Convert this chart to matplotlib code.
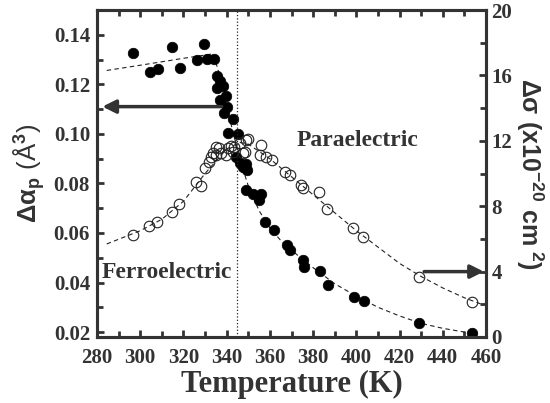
import matplotlib
matplotlib.use("Agg")
import matplotlib.pyplot as plt
from matplotlib.ticker import MultipleLocator, FormatStrFormatter

# ---- data ----
T_filled = [296.8, 304.5, 308.0, 314.9, 318.3, 326.3, 329.5, 330.8, 334.0, 335.7,
            336.8, 335.5, 338.3, 337.1, 339.8, 340.3, 338.8, 342.9, 340.8, 345.2,
            344.2, 346.0, 348.8, 347.5, 349.4, 349.0, 352.1, 356.0, 354.9, 357.7,
            361.7, 367.7, 369.2, 375.2, 376.0, 383.2, 386.8, 399.1, 403.7, 429.1, 453.7]
alpha_p = [0.1328, 0.1249, 0.1263, 0.1350, 0.1265, 0.1298, 0.1361, 0.1303, 0.1303, 0.1232,
           0.1215, 0.1187, 0.1194, 0.1135, 0.1151, 0.1110, 0.1086, 0.1061, 0.1003, 0.1000,
           0.0908, 0.0882, 0.0879, 0.0865, 0.0855, 0.0774, 0.0758, 0.0756, 0.0733, 0.0646,
           0.0610, 0.0552, 0.0530, 0.0491, 0.0464, 0.0448, 0.0390, 0.0343, 0.0327, 0.0238, 0.0198]

T_open = [296.5, 304.2, 307.8, 314.5, 317.8, 326.0, 328.0, 329.8, 331.8, 332.9,
          333.7, 334.9, 335.2, 336.5, 337.6, 339.9, 340.6, 342.2, 342.9, 343.2,
          346.0, 347.5, 348.3, 349.0, 349.8, 355.2, 356.0, 358.2, 361.2, 366.8,
          369.1, 374.5, 375.2, 382.9, 386.5, 398.3, 402.9, 428.8, 453.4]
sigma = [6.24, 6.79, 7.01, 7.65, 8.13, 9.50, 9.25, 10.32, 10.72, 11.03,
         11.27, 11.64, 11.13, 11.54, 11.24, 11.13, 11.54, 11.68, 11.33, 11.64,
         11.85, 11.24, 11.33, 12.05, 12.09, 11.13, 11.74, 11.00, 10.85, 10.11,
         9.91, 9.30, 9.09, 8.89, 7.80, 6.65, 6.13, 3.69, 2.16]

T_fit_a = [284.5, 300, 320, 333.7, 336, 338, 340, 342, 344, 346, 350, 355, 360, 365, 370,
           380, 390, 400, 410, 420, 430, 440, 450, 456]
alpha_fit = [0.1256, 0.1277, 0.1305, 0.1323, 0.126, 0.117, 0.110, 0.104, 0.097, 0.090,
             0.079, 0.069, 0.062, 0.057, 0.053, 0.046, 0.0395, 0.0345, 0.030, 0.0265,
             0.0235, 0.0215, 0.0200, 0.0195]

T_fit_s = [284.5, 300, 310, 320, 330, 340, 346, 350, 360, 370, 380, 390, 400, 410, 420,
           430, 440, 450, 458]
sigma_fit = [5.69, 6.5, 7.2, 8.3, 10.0, 11.5, 11.9, 11.8, 10.9, 9.8, 8.7, 7.6, 6.5, 5.5,
             4.5, 3.7, 3.0, 2.4, 2.0]

T_c = 345
x_ticks = list(range(280, 461, 20))
y_left_ticks = [0.02, 0.04, 0.06, 0.08, 0.10, 0.12, 0.14]
y_right_ticks = [0, 4, 8, 12, 16, 20]

# ---- style ----
SERIF = 'Liberation Serif'
plt.rcParams['font.family'] = SERIF
plt.rcParams['font.weight'] = 'bold'
plt.rcParams['mathtext.fontset'] = 'custom'
plt.rcParams['mathtext.rm'] = 'Liberation Sans'
plt.rcParams['mathtext.it'] = 'Liberation Sans:bold'
plt.rcParams['mathtext.bf'] = 'Liberation Sans:bold'

GREY = '#333333'

fig = plt.figure(figsize=(5.5, 4.03), dpi=100)
ax1 = fig.add_axes([97/550, 1-337/403, (486-97)/550, (337-10)/403])
ax2 = ax1.twinx()

ax1.plot(T_fit_a, alpha_fit, ls=(0, (4, 3)), color='#222222', lw=0.8)
ax1.plot(T_filled, alpha_p, 'o', ms=7.6, mfc='black', mec='black', mew=0.5)
ax2.plot(T_fit_s, sigma_fit, ls=(0, (4, 3)), color='#222222', lw=0.8)
ax2.plot(T_open, sigma, 'o', ms=7.6, mfc='none', mec='#222222', mew=0.8)

ax1.axvline(T_c, color='#222222', ls=':', lw=0.9)

ax1.set_xlim(280, 460)
ax1.set_ylim(0.018, 0.150)
ax2.set_ylim(0, 20)

ax1.set_xticks(x_ticks)
ax1.xaxis.set_minor_locator(MultipleLocator(10))
ax1.set_yticks(y_left_ticks)
ax1.yaxis.set_minor_locator(MultipleLocator(0.01))
ax1.yaxis.set_major_formatter(FormatStrFormatter('%.2f'))
ax2.set_yticks(y_right_ticks)
ax2.yaxis.set_minor_locator(MultipleLocator(2))

for sp in list(ax1.spines.values()) + list(ax2.spines.values()):
    sp.set_linewidth(2.2)
    sp.set_color(GREY)

ax1.tick_params(axis='x', which='major', pad=8)
ax1.tick_params(axis='both', which='major', direction='in', length=5, width=2, color=GREY,
                top=True, right=False, labelsize=15, labelcolor=GREY)
ax1.tick_params(axis='y', which='major', pad=5)
ax1.tick_params(axis='both', which='minor', direction='in', length=4, width=2, color=GREY,
                top=True, right=False)
ax2.tick_params(axis='y', which='major', direction='in', length=5, width=2, color=GREY,
                labelsize=15, labelcolor=GREY, pad=4)
ax2.tick_params(axis='y', which='minor', direction='in', length=4, width=2, color=GREY)

ax1.set_xlabel('Temperature (K)', fontfamily=SERIF, fontweight='bold', fontsize=22,
               color=GREY, labelpad=1)
ax1.set_ylabel(r'$\mathbf{\Delta\alpha_{p}}$ (Å$^{3}$)', fontfamily='Liberation Sans',
               fontweight='normal', fontsize=18.5, color=GREY, labelpad=5)
ax2.set_ylabel(r'$\mathbf{\Delta\sigma\ (x10^{-20}\ cm^{\ 2})}$',
               fontsize=18, color=GREY, rotation=270, labelpad=24)

ax1.text(400.5, 0.0972, 'Paraelectric', fontfamily=SERIF, fontweight='bold', fontsize=17,
         color=GREY, ha='center', va='center')
ax1.text(282.3, 0.0442, 'Ferroelectric', fontfamily=SERIF, fontweight='bold', fontsize=17,
         color=GREY, ha='left', va='center')

ax1.annotate('', xy=(282.5, 0.111), xytext=(337.7, 0.111),
             arrowprops=dict(arrowstyle='-|>', lw=2.5, color=GREY, mutation_scale=20,
                             shrinkA=0, shrinkB=0))
ax2.annotate('', xy=(459.0, 4.0), xytext=(431.4, 4.0),
             arrowprops=dict(arrowstyle='-|>', lw=2.5, color=GREY, mutation_scale=20,
                             shrinkA=0, shrinkB=0))

fig.savefig('out.png', dpi=100)
